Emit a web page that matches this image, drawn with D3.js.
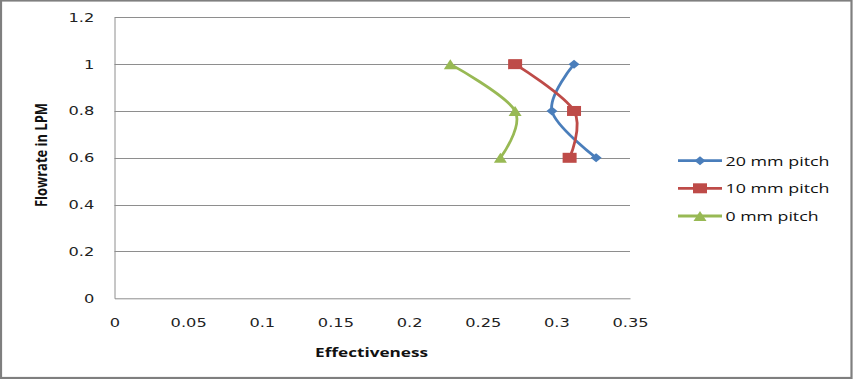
<!DOCTYPE html>
<html>
<head>
<meta charset="utf-8">
<script src="https://cdn.jsdelivr.net/npm/d3@7"></script>
<style>
  html, body { margin: 0; padding: 0; background: #fff; }
  svg { display: block; }
</style>
</head>
<body>
<svg id="chart" width="853" height="379"></svg>
<script>
// ---- data ----
const flowrates = [0.6, 0.8, 1.0];
const pitch20 = [0.327, 0.297, 0.312];
const pitch10 = [0.309, 0.312, 0.272];
const pitch0  = [0.262, 0.272, 0.228];
const seriesNames = ["20 mm pitch", "10 mm pitch", "0 mm pitch"];
const seriesColors = ["#4A7EBB", "#BE4B48", "#98B954"];
const xTicks = [0, 0.05, 0.1, 0.15, 0.2, 0.25, 0.3, 0.35];
const yTicks = [0, 0.2, 0.4, 0.6, 0.8, 1, 1.2];
const xTitle = "Effectiveness";
const yTitle = "Flowrate in LPM";

(function () {
const series = [pitch20, pitch10, pitch0].map((vals, i) => ({
  name: seriesNames[i], color: seriesColors[i], marker: ["diamond", "square", "triangle"][i],
  points: vals.map((v, j) => ({ x: v, y: flowrates[j] }))
}));

const svg = d3.select("#chart");
const pLeft = 114.5, pRight = 630, pTop = 17.3, pBottom = 298.3;
const x = d3.scaleLinear().domain([0, 0.35]).range([pLeft, pRight]);
const y = d3.scaleLinear().domain([0, 1.2]).range([pBottom, pTop]);

// outer frame
svg.append("rect").attr("x", 1).attr("y", 0.5).attr("width", 850.5).attr("height", 377.5)
  .attr("fill", "#fff").attr("stroke", "#7f7f7f").attr("stroke-width", 2.2);

// gridlines
svg.append("g").selectAll("line").data(yTicks.filter(d => d > 0)).join("line")
  .attr("x1", pLeft).attr("x2", pRight)
  .attr("y1", d => Math.round(y(d)) + 0.5).attr("y2", d => Math.round(y(d)) + 0.5)
  .attr("stroke", "#8e8e8e").attr("stroke-width", 1);

const tickFont = "'DejaVu Sans', Verdana, sans-serif";
// y axis
const gy = svg.append("g").attr("transform", `translate(${pLeft},0)`)
  .call(d3.axisLeft(y).tickValues(yTicks).tickSize(0).tickPadding(15.6).tickFormat(d3.format("")));
gy.select(".domain").attr("stroke", "#8e8e8e");
gy.selectAll("text").attr("font-family", tickFont).attr("font-size", 12.5).attr("fill", "#222")
  .attr("transform", "scale(1.3,1)");

// x axis
const gx = svg.append("g").attr("transform", `translate(0,${pBottom})`)
  .call(d3.axisBottom(x).tickValues(xTicks).tickSize(0).tickPadding(19.5).tickFormat(d3.format("")));
gx.select(".domain").attr("stroke", "#8e8e8e");
gx.selectAll("text").attr("font-family", tickFont).attr("font-size", 12.5).attr("fill", "#222")
  .attr("transform", "scale(1.3,1)");

// axis titles
const titleFont = "'Open Sans', Lato, sans-serif";
svg.append("text").attr("x", 371.6).attr("y", 356.5).attr("text-anchor", "middle")
  .attr("font-family", titleFont).attr("font-weight", "bold").attr("font-size", 12.5)
  .attr("textLength", 113).attr("lengthAdjust", "spacingAndGlyphs").attr("fill", "#111")
  .text(xTitle);
svg.append("text").attr("transform", "translate(46.5,155) rotate(-90) scale(1,1.3)")
  .attr("text-anchor", "middle")
  .attr("font-family", titleFont).attr("font-weight", "bold").attr("font-size", 12)
  .attr("textLength", 104).attr("lengthAdjust", "spacingAndGlyphs").attr("fill", "#111")
  .text(yTitle);

// markers
function markerPath(type) {
  if (type === "diamond") return "M0,-4.5L5.5,0L0,4.5L-5.5,0Z";
  if (type === "square") return "M-7,-5H7V5H-7Z";
  return "M0,-5L6.5,5H-6.5Z";
}

const line = d3.line().x(d => x(d.x)).y(d => y(d.y)).curve(d3.curveCardinal.tension(0));
series.forEach(s => {
  svg.append("path").attr("d", line(s.points)).attr("fill", "none")
    .attr("stroke", s.color).attr("stroke-width", 2.8).attr("stroke-linejoin", "round");
});
series.forEach(s => {
  svg.append("g").selectAll("path").data(s.points).join("path")
    .attr("transform", d => `translate(${x(d.x)},${y(d.y)})`)
    .attr("d", markerPath(s.marker)).attr("fill", s.color);
});

// legend
const legY = [160.7, 188.3, 216];
const legLen = [104, 104, 93];
series.forEach((s, i) => {
  const g = svg.append("g").attr("transform", `translate(0,${legY[i]})`);
  g.append("line").attr("x1", 678).attr("x2", 722).attr("y1", 0).attr("y2", 0)
    .attr("stroke", s.color).attr("stroke-width", 2.8);
  g.append("path").attr("transform", "translate(700,0)").attr("d", markerPath(s.marker)).attr("fill", s.color);
  g.append("text").attr("x", 725.5).attr("y", 5).attr("font-family", titleFont).attr("font-size", 13.5)
    .attr("textLength", legLen[i]).attr("lengthAdjust", "spacingAndGlyphs").attr("fill", "#111")
    .text(s.name);
});
})();
</script>
</body>
</html>
